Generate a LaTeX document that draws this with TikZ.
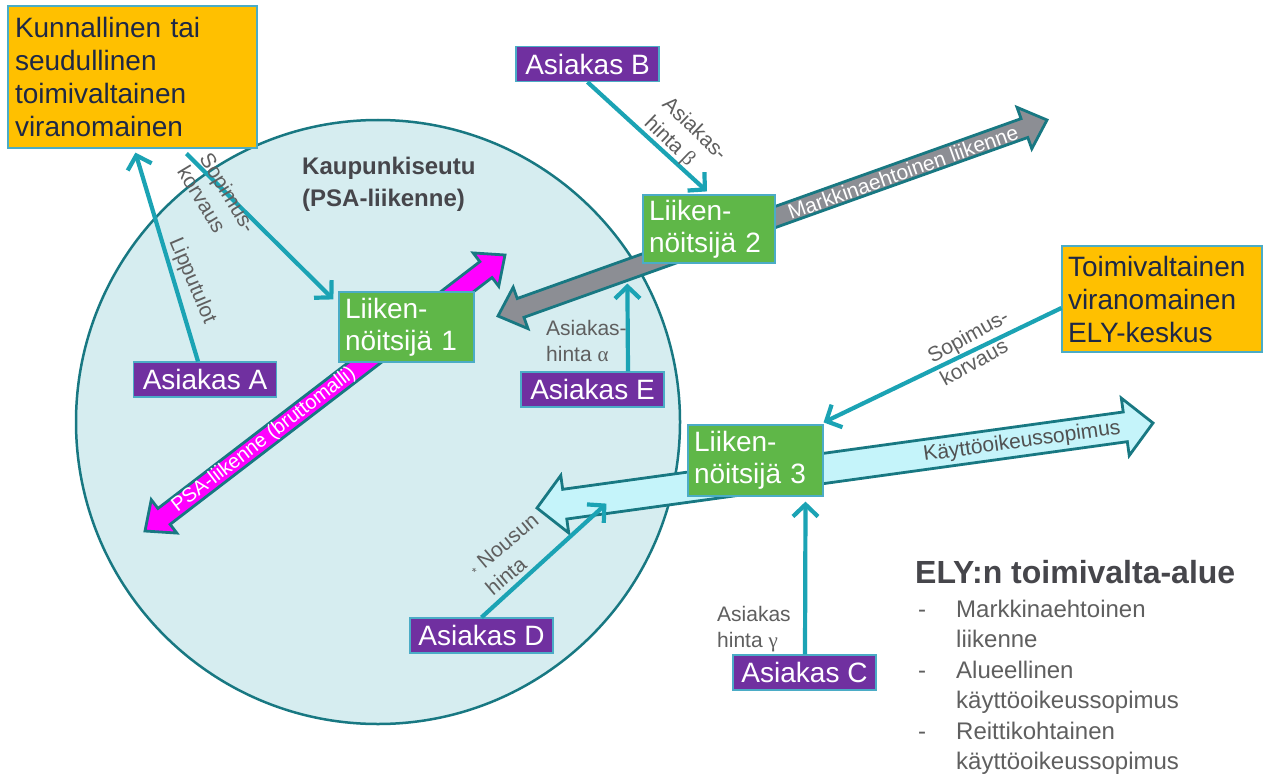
\documentclass[tikz,border=0pt]{standalone}
\usepackage{fontspec}
\setmainfont{Liberation Sans}
\newfontfamily\grk{Liberation Serif}
\usetikzlibrary{calc,arrows.meta}
\definecolor{connC}{RGB}{27,163,180}
\definecolor{boxline}{RGB}{75,172,198}
\definecolor{circF}{RGB}{214,237,240}
\definecolor{circD}{RGB}{24,120,130}
\definecolor{orangeF}{RGB}{255,192,0}
\definecolor{navyT}{RGB}{30,40,70}
\definecolor{greenF}{RGB}{95,183,72}
\definecolor{purpleF}{RGB}{112,48,160}
\definecolor{magF}{RGB}{255,0,255}
\definecolor{greyF}{RGB}{140,142,148}
\definecolor{cyanF}{RGB}{197,244,250}
\definecolor{lblC}{RGB}{95,95,95}
\definecolor{headC}{RGB}{70,70,75}
\newcommand\blockarr[6]{%
  \path ($(#2)!#6!(#3)$) coordinate (ba1) ($(#3)!#6!(#2)$) coordinate (bb1);
  \draw[#1] (#2) -- ($(ba1)!#5!90:(#3)$) -- ($(ba1)!#4!90:(#3)$)
    -- ($(bb1)!#4!-90:(#2)$) -- ($(bb1)!#5!-90:(#2)$) -- (#3)
    -- ($(bb1)!#5!90:(#2)$) -- ($(bb1)!#4!90:(#2)$)
    -- ($(ba1)!#4!-90:(#3)$) -- ($(ba1)!#5!-90:(#3)$) -- cycle;}
\begin{document}
\begin{tikzpicture}[x=1pt,y=-1pt,
  box/.style={draw=boxline, line width=1.2pt, inner ysep=0pt, font=\fontsize{28}{33}\selectfont},
  kbox/.style={box, fill=orangeF, text=navyT, align=left, inner xsep=7pt},
  gbox/.style={box, fill=greenF, text=white, align=left, inner xsep=6pt, font=\fontsize{28}{32}\selectfont},
  pbox/.style={box, fill=purpleF, text=white, inner sep=0pt, minimum width=143pt, minimum height=35pt},
  conn/.style={draw=connC, line width=4.2pt, -{Straight Barb[length=12pt,width=25pt]}},
  lbl/.style={text=lblC, font=\fontsize{21}{26}\selectfont, inner sep=0pt, align=left},
  barrow/.style={draw=circD, line width=2.8pt, line join=miter},
  ]
\useasboundingbox[fill=white] (0,0) rectangle (1265,778);
% city region
\draw[fill=circF, draw=circD, line width=2.5pt] (378,422) circle [radius=302pt];
\node[anchor=base west, inner sep=0pt, text=headC, font=\bfseries\fontsize{24}{32}\selectfont] (kaup) at (302,175)
  {\begin{tabular}[t]{@{}l@{}}Kaupunkiseutu\\(PSA-liikenne)\end{tabular}};
% block arrows
\coordinate (mA) at (145,531); \coordinate (mB) at (505,255);
\coordinate (gA) at (498,316); \coordinate (gB) at (1047,120);
\coordinate (cA) at (537,508); \coordinate (cB) at (1153,423);
\blockarr{barrow, fill=magF}{mA}{mB}{10pt}{21pt}{24pt}
\blockarr{barrow, fill=greyF}{gA}{gB}{10pt}{22pt}{24pt}
\blockarr{barrow, fill=cyanF}{cA}{cB}{15pt}{29pt}{28pt}
\node[rotate=37.5, inner sep=0pt, text=white, font=\fontsize{20}{20}\selectfont] (magT) at (264,440) {PSA-liikenne (bruttomalli)};
\node[rotate=19.65, inner sep=0pt, text=white, font=\fontsize{21}{21}\selectfont] (greyT) at (903,172) {Markkinaehtoinen liikenne};
\node[rotate=7.86, inner sep=0pt, text=lblC!85!black, font=\fontsize{21}{21}\selectfont] (cyanT) at (1022,442) {Käyttöoikeussopimus};
% boxes
\node[kbox, text width=235pt, minimum height=142pt] (KUN) at (132.5,77) {Kunnallinen tai\\seudullinen\\toimivaltainen\\viranomainen};
\node[kbox, inner xsep=6pt, text width=188pt, minimum height=106pt] (ELY) at (1162,299) {Toimivaltainen\\viranomainen\\ELY-keskus};
\node[gbox, text width=123pt, minimum height=70pt] (L1) at (406.5,327) {Liiken-\\nöitsijä 1};
\node[gbox, text width=120pt, minimum height=68pt] (L2) at (709,229) {Liiken-\\nöitsijä 2};
\node[gbox, text width=123pt, minimum height=71pt] (L3) at (755.5,460.5) {Liiken-\\nöitsijä 3};
\node[pbox] (AA) at (205,379.5) {Asiakas A};
\node[pbox] (AB) at (587.5,64) {Asiakas B};
\node[pbox] (AE) at (592.5,389.5) {Asiakas E};
\node[pbox] (AD) at (481.5,635.5) {Asiakas D};
\node[pbox] (AC) at (804.5,672.5) {Asiakas C};
% connectors
\coordinate (dEnd) at ($(L3.south west)+(-81,7)$);
\draw[conn] ($(AA.north)+(-7,0)$) -- ($(KUN.south west)+(128,4)$);
\draw[conn] ($(KUN.south west)+(179,5)$) -- ($(L1.north west)+(-5,8)$);
\draw[conn] (AB.south) -- ($(L2.north)+(-2,-3)$);
\draw[conn] ($(AE.north)+(35.5,0)$) -- ($(L2.south west)+(-15,20)$);
\draw[conn] ($(ELY.west)+(0,9)$) -- ($(L3.north east)+(0,-2)$);
\draw[conn] ($(AC.north)+(0.5,0)$) -- ($(L3.south)+(50,5)$);
\draw[conn] (AD.north) -- (dEnd);
% labels
\node[lbl, rotate=-67] (lipT) at (192,281) {Lipputulot};
\node[lbl, rotate=-59] (sop1T) at (217,199) {Sopimus-\\korvaus};
\node[lbl, rotate=-44] (bT) at (685,139) {Asiakas-\\hinta {\grk β}};
\node[lbl, anchor=north west] (eT) at (546,320) {Asiakas-\\hinta {\grk α}};
\node[lbl, rotate=29] (sop2T) at (974,347) {Sopimus-\\korvaus};
\node[lbl, anchor=north west] (cT) at (717,606) {Asiakas\\hinta {\grk γ}};
\node[lbl, rotate=40] (dT) at (512,554) {{\fontsize{12}{12}\selectfont *} Nousun\\hinta};
% legend
\node[anchor=base west, inner sep=0pt, text=headC, font=\bfseries\fontsize{32}{36}\selectfont] (elyH) at (915,583) {ELY:n toimivalta-alue};
\node[anchor=base west, inner sep=0pt, text=lblC, font=\fontsize{24}{30.5}\selectfont] (elyL) at (918,617)
  {\begin{tabular}[t]{@{}p{38pt}@{}l@{}}-&Markkinaehtoinen\\&liikenne\\-&Alueellinen\\&käyttöoikeussopimus\\-&Reittikohtainen\\&käyttöoikeussopimus\end{tabular}};
\end{tikzpicture}
\end{document}
